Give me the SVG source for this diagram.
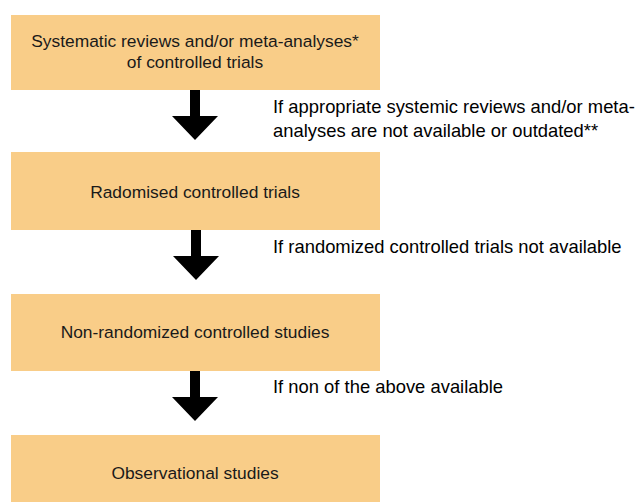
<svg xmlns="http://www.w3.org/2000/svg" width="639" height="502" viewBox="0 0 639 502">
  <style>
    .box { fill: #F9CD88; }
    .boxtext { font-family: "Liberation Sans", Arial, sans-serif; font-size: 17.4px; fill: #1a1a1a; text-anchor: middle; }
    .note { font-family: "Liberation Sans", Arial, sans-serif; font-size: 18.4px; fill: #000; }
    .arrow { fill: #000; }
  </style>
  <defs>
    <path id="down-arrow" class="arrow" d="M-5,0 H5 V26 H23 L0,50 L-23,26 H-5 Z"/>
  </defs>
  <rect width="639" height="502" fill="#fff"/>

  <g id="node-systematic-reviews">
    <rect class="box" x="11" y="15" width="369" height="75"/>
    <text class="boxtext" x="195" y="47">Systematic reviews and/or meta-analyses*</text>
    <text class="boxtext" x="195" y="68">of controlled trials</text>
  </g>

  <g id="node-rct">
    <rect class="box" x="11" y="152" width="369" height="78"/>
    <text class="boxtext" x="195" y="198">Radomised controlled trials</text>
  </g>

  <g id="node-nonrandomized">
    <rect class="box" x="11" y="294" width="369" height="77"/>
    <text class="boxtext" x="195" y="338">Non-randomized controlled studies</text>
  </g>

  <g id="node-observational">
    <rect class="box" x="11" y="435" width="369" height="67"/>
    <text class="boxtext" x="195" y="479">Observational studies</text>
  </g>

  <g id="connectors">
    <use href="#down-arrow" x="195" y="90"/>
    <use href="#down-arrow" x="196" y="230"/>
    <use href="#down-arrow" x="195" y="371"/>
    <text class="note" x="273" y="113">If appropriate systemic reviews and/or meta-</text>
    <text class="note" x="273" y="137">analyses are not available or outdated**</text>
    <text class="note" x="273" y="253">If randomized controlled trials not available</text>
    <text class="note" x="273" y="393">If non of the above available</text>
  </g>
</svg>
